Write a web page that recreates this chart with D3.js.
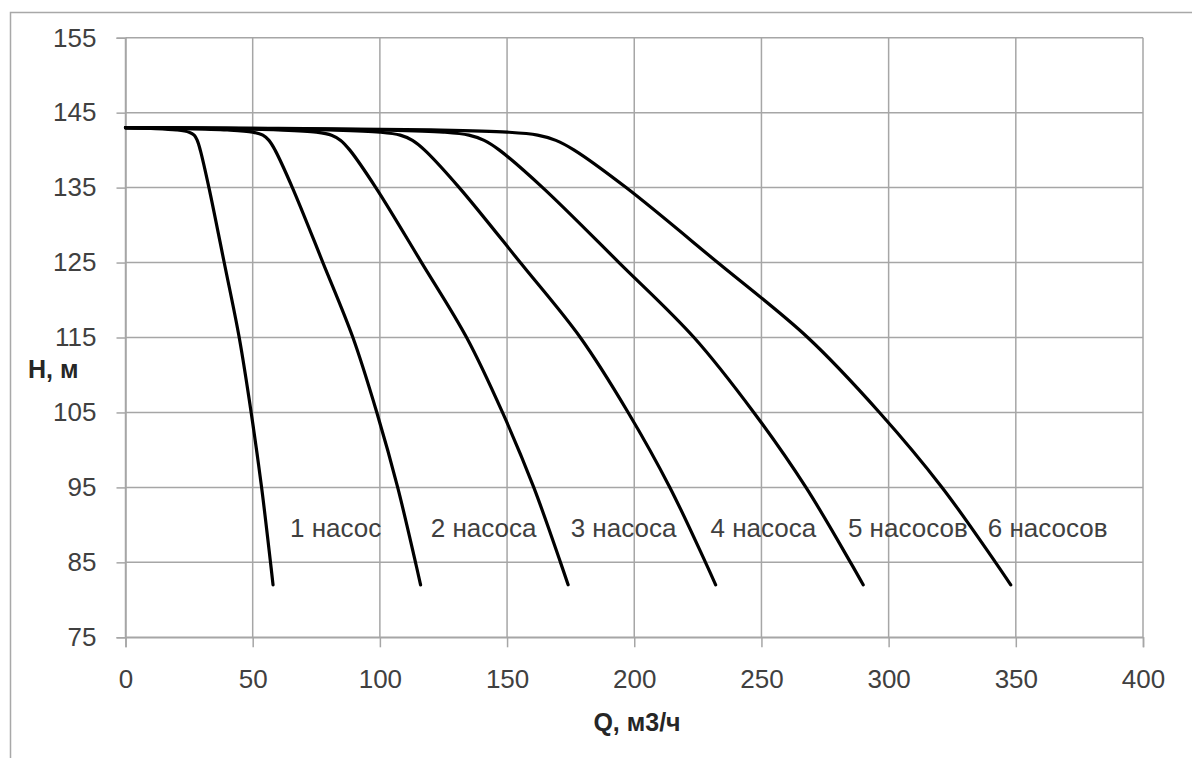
<!DOCTYPE html>
<html><head><meta charset="utf-8">
<script src="https://cdn.jsdelivr.net/npm/d3@7"></script>
<style>html,body{margin:0;padding:0;background:#fff;}svg{display:block;}</style>
</head><body>
<script>
// ---- data ----
const heads = [143, 142.9, 142.7, 142.4, 142.0, 141.3, 140, 135, 125, 115, 105, 95, 85, 82];
const q1 = [0, 10, 20, 25, 27, 28.2, 29.4, 32.8, 38.8, 44.7, 49.4, 53.5, 57, 58];
const q2 = [0, 20, 40, 50, 54, 56.4, 58.8, 65.6, 77.6, 89.4, 98.8, 107, 114, 116];
const q3 = [0, 30, 60, 75, 81, 84.6, 88.2, 98.4, 116.4, 134.1, 148.2, 160.5, 171, 174];
const q4 = [0, 40, 80, 100, 108, 112.8, 117.6, 131.2, 155.2, 178.8, 197.6, 214, 228, 232];
const q5 = [0, 50, 100, 125, 135, 141, 147, 164, 194, 223.5, 247, 267.5, 285, 290];
const q6 = [0, 60, 120, 150, 162, 169.2, 176.4, 196.8, 232.8, 268.2, 296.4, 321, 342, 348];
const seriesQ = [q1, q2, q3, q4, q5, q6];
const seriesLabels = ["1 насос", "2 насоса", "3 насоса", "4 насоса", "5 насосов", "6 насосов"];
const labelQ = [64.7, 120, 175, 230, 284, 339];
const labelH = 88.4;
const xTicks = [0, 50, 100, 150, 200, 250, 300, 350, 400];
const yTicks = [75, 85, 95, 105, 115, 125, 135, 145, 155];
const xTitle = "Q, м3/ч";
const yTitle = "H, м";

// ---- drawing ----
const W = 1192, H = 758;
const svg = d3.select("body").append("svg").attr("width", W).attr("height", H);
svg.append("rect").attr("width", W).attr("height", H).attr("fill", "#fff");
svg.append("rect").attr("x", 10.5).attr("y", 12.5).attr("width", W + 10).attr("height", H + 10)
  .attr("fill", "none").attr("stroke", "#a8a8a8").attr("stroke-width", 1.5);

const x = d3.scaleLinear().domain([0, 400]).range([125.5, 1143]);
const y = d3.scaleLinear().domain([75, 155]).range([637.3, 37.7]);
const font = "'Liberation Sans', Arial, sans-serif";
const gridColor = "#a6a6a6";

// grid
svg.append("g").selectAll("line").data(yTicks).join("line")
  .attr("x1", x(0)).attr("x2", x(400)).attr("y1", d => y(d)).attr("y2", d => y(d))
  .attr("stroke", gridColor).attr("stroke-width", 1.5);
svg.append("g").selectAll("line").data(xTicks).join("line")
  .attr("y1", y(75)).attr("y2", y(155)).attr("x1", d => x(d)).attr("x2", d => x(d))
  .attr("stroke", gridColor).attr("stroke-width", 1.5);

// axes
const xAxis = svg.append("g").attr("transform", `translate(0,${y(75)})`)
  .call(d3.axisBottom(x).tickValues(xTicks).tickSize(10).tickPadding(22).tickFormat(d3.format("d")));
const yAxis = svg.append("g").attr("transform", `translate(${x(0)},0)`)
  .call(d3.axisLeft(y).tickValues(yTicks).tickSize(9).tickPadding(20).tickFormat(d3.format("d")));
[xAxis, yAxis].forEach(g => {
  g.select(".domain").attr("stroke", gridColor).attr("stroke-width", 1.5);
  g.selectAll(".tick line").attr("stroke", gridColor).attr("stroke-width", 1.5);
  g.selectAll("text").attr("font-family", font).attr("font-size", 26).attr("fill", "#404040");
});
xAxis.selectAll("text").attr("dy", "0.71em");

// curves
const line = d3.line().x(d => x(d[0])).y(d => y(d[1])).curve(d3.curveCatmullRom.alpha(0.5));
svg.append("g").selectAll("path").data(seriesQ).join("path")
  .attr("d", qs => line(qs.map((q, i) => [q, heads[i]])))
  .attr("fill", "none").attr("stroke", "#000").attr("stroke-width", 3.2)
  .attr("stroke-linejoin", "round").attr("stroke-linecap", "round");

// clip for the first label (cut at the 100 gridline as in the reference)
svg.append("clipPath").attr("id", "clip1").append("rect")
  .attr("x", 0).attr("y", 0).attr("width", x(100) + 1.5).attr("height", H);

// labels
svg.append("g").selectAll("text").data(seriesLabels).join("text")
  .attr("x", (d, i) => x(labelQ[i])).attr("y", y(labelH))
  .attr("clip-path", (d, i) => i === 0 ? "url(#clip1)" : null)
  .attr("font-family", font).attr("font-size", 26).attr("fill", "#404040")
  .text(d => d);

// axis titles
svg.append("text").attr("x", 28).attr("y", 378).attr("font-family", font).attr("font-weight", "bold")
  .attr("font-size", 25).attr("fill", "#262626").text(yTitle);
svg.append("text").attr("x", 637).attr("y", 731).attr("text-anchor", "middle").attr("font-family", font)
  .attr("font-weight", "bold").attr("font-size", 25).attr("fill", "#262626").text(xTitle);
</script>
</body></html>
